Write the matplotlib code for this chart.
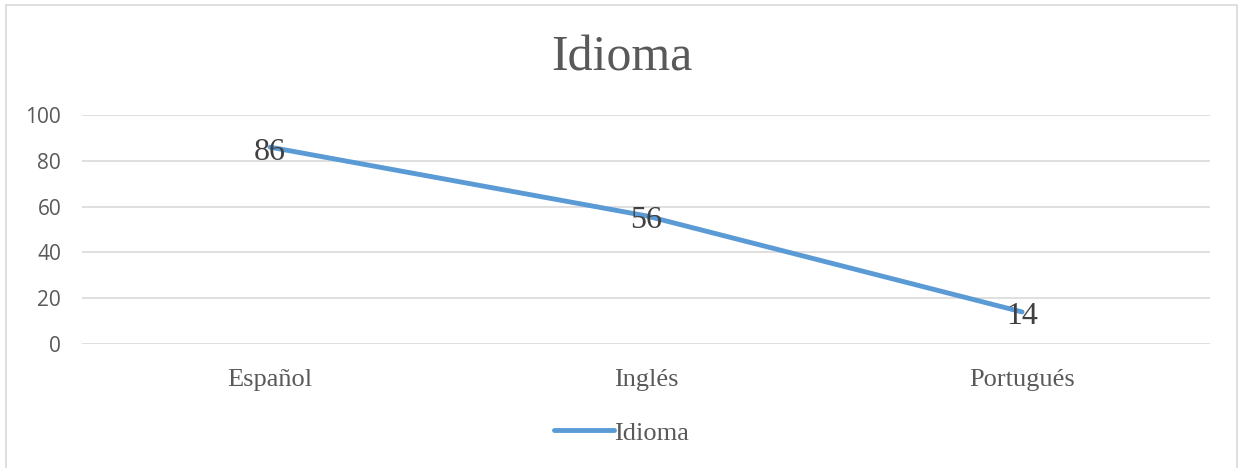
import matplotlib.pyplot as plt
from matplotlib.patches import Rectangle

categories = ['Español', 'Inglés', 'Portugués']
values = [86, 56, 14]
yticks = [0, 20, 40, 60, 80, 100]

serif = 'Liberation Serif'
gray = '#595959'
blue = '#5B9BD5'

fig = plt.figure(figsize=(12.43, 4.68), dpi=100)
ax = fig.add_axes([0.066, 0.265, 0.9075, 0.489])

fig.patches.append(Rectangle((0.005, -0.01), 0.99, 1.0, transform=fig.transFigure,
                             fill=False, edgecolor='#D9D9D9', linewidth=1.2))

x = range(len(categories))
ax.plot(x, values, color=blue, linewidth=3.5, solid_capstyle='round', label='Idioma', zorder=3)
for i, v in zip(x, values):
    ax.annotate(str(v), (i, v), xytext=(0, -3.5), textcoords='offset points',
                ha='center', va='center', fontsize=23, family=serif,
                color='#404040', zorder=4)

ax.set_xlim(-0.5, len(categories) - 0.5)
ax.set_ylim(0, 100)
ax.set_yticks(yticks)
ax.set_xticks(list(x))
ax.set_xticklabels(categories, family=serif, fontsize=19, color=gray)
ax.tick_params(axis='x', length=0, pad=18)
ax.tick_params(axis='y', length=0, pad=15, labelsize=15, labelcolor=gray)
for lab in ax.get_yticklabels():
    lab.set_family('Open Sans')
ax.grid(axis='y', color='#D9D9D9', linewidth=1.2)
ax.set_axisbelow(True)
for s in ax.spines.values():
    s.set_visible(False)

fig.text(0.5, 0.875, 'Idioma', ha='center', va='center', fontsize=36, family=serif, color=gray)

leg = fig.legend(loc='center', bbox_to_anchor=(0.5, 0.075), frameon=False,
                 prop={'family': serif, 'size': 19}, handlelength=2.3, handletextpad=0.0)
for t in leg.get_texts():
    t.set_color(gray)

fig.savefig('out.png', dpi=100)
